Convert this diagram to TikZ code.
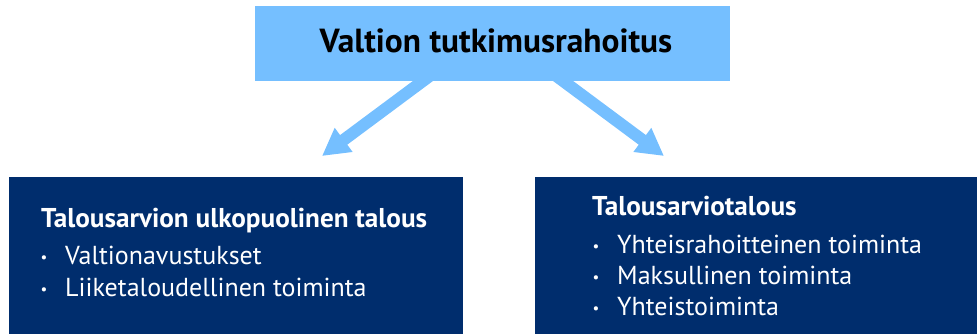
\documentclass[tikz,border=0pt]{standalone}
\usepackage{fontspec}
\setmainfont{PT Sans}
\usetikzlibrary{arrows.meta}
\definecolor{vaalea}{HTML}{75BFFF}
\definecolor{tumma}{HTML}{002D6D}
\begin{document}
\begin{tikzpicture}[x=1pt,y=-1pt,line join=round,>={Triangle[width=28pt,length=27pt]}]
	\tikzset{
		ylalaatikko/.style={fill=vaalea,minimum width=475pt,minimum height=75pt,inner sep=0pt},
		alalaatikko/.style={fill=tumma,anchor=north west,minimum height=170pt,inner sep=0pt},
		otsikko/.style={anchor=base west,inner sep=0pt,text=white,font=\bfseries\fontsize{27.2}{32}\selectfont},
		kohta/.style={anchor=base west,inner sep=0pt,text=white,font=\fontsize{26}{30}\selectfont},
		luoti/.style={anchor=base,inner sep=0pt,text=white,font=\fontsize{15}{18}\selectfont},
		nuoli/.style={draw=vaalea,line width=12pt,->}
	}
	\useasboundingbox (0,0) rectangle (977,334);
	% Ylälaatikko
	\node[ylalaatikko] (yla) at (492.5,43.5) {};
	\node[anchor=base,inner sep=0pt,font=\bfseries\fontsize{33.4}{38}\selectfont] (ylateksti) at (496,53) {Valtion tutkimusrahoitus};
	% Alalaatikot
	\node[alalaatikko,minimum width=454pt] (vasen) at (9,177) {};
	\node[alalaatikko,minimum width=450pt] (oikea) at (535,177) {};
	% Nuolet
	\coordinate (valku) at (433,73.5);
	\coordinate (vkarki) at (322,156);
	\coordinate (oalku) at (553,73.5);
	\coordinate (okarki) at (664,156);
	\draw[nuoli] (valku) -- (vkarki);
	\draw[nuoli] (oalku) -- (okarki);
	% Tekstit
	\node[otsikko] (votsikko) at (41,227) {Talousarvion ulkopuolinen talous};
	\node[otsikko] (ootsikko) at (592,215) {Talousarviotalous};
	\foreach \n/\px/\py/\teksti in {
		v1/65/264/Valtionavustukset,
		v2/65/296/Liiketaloudellinen toiminta,
		o1/617/253/Yhteisrahoitteinen toiminta,
		o2/617/284/Maksullinen toiminta,
		o3/617/315/Yhteistoiminta
	}{
		\node[kohta] (\n) at (\px,\py) {\teksti};
		\node[luoti] (luoti\n) at (\px-21,\py-2) {•};
	}
\end{tikzpicture}
\end{document}
